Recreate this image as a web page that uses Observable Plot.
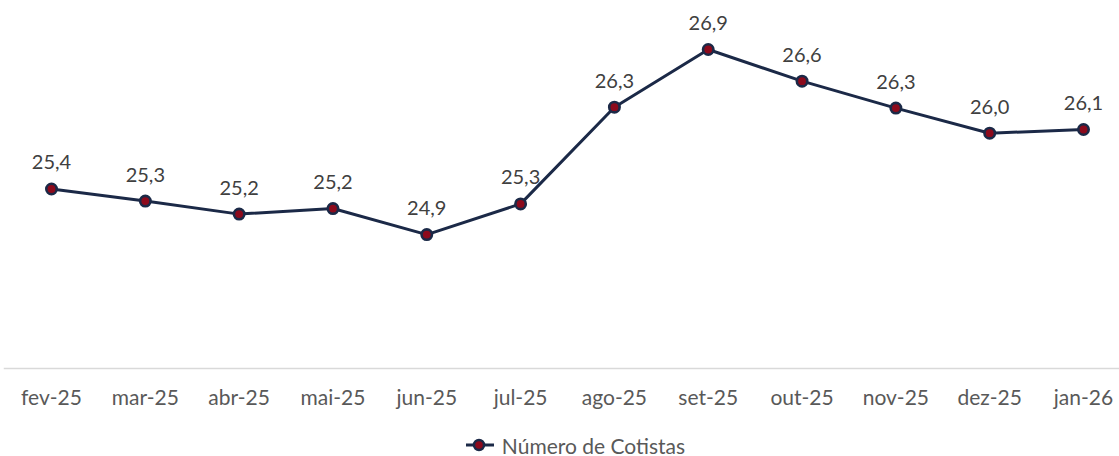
<!DOCTYPE html>
<html>
<head>
<meta charset="utf-8">
<script src="https://cdn.jsdelivr.net/npm/d3@7"></script>
<script src="https://cdn.jsdelivr.net/npm/@observablehq/plot@0.6"></script>
<style>
  html, body { margin: 0; padding: 0; background: #fff; }
  body { width: 1119px; height: 456px; overflow: hidden; font-family: Lato, "Open Sans", sans-serif; }
  #legend { display: flex; justify-content: center; align-items: center; height: 26px; margin-top: 7px; margin-left: 31px;
            font-family: Lato, sans-serif; font-size: 21px; color: #595959; }
  #legend svg { margin-right: 7px; }
</style>
</head>
<body>
<div id="chart"></div>
<div id="legend"></div>
<script>
const months = ["fev-25","mar-25","abr-25","mai-25","jun-25","jul-25","ago-25","set-25","out-25","nov-25","dez-25","jan-26"];
const cotistas = [25.43, 25.30, 25.16, 25.22, 24.94, 25.27, 26.31, 26.93, 26.59, 26.30, 26.03, 26.07];
const seriesName = "Número de Cotistas";

const data = months.map((m, i) => ({month: m, value: cotistas[i]}));
const fmt = v => v.toFixed(1).replace(".", ",");

const navy = "#1b2947";
const red = "#8c0a1c";

const plot = Plot.plot({
  width: 1119,
  height: 425,
  marginLeft: 4,
  marginRight: 0,
  marginTop: 42.5,
  marginBottom: 57,
  style: {fontFamily: "Lato, sans-serif", background: "#fff"},
  x: {type: "point", domain: months, range: [51, 1083], padding: 0, round: false, label: null},
  y: {domain: [23.5, 27], axis: null},
  marks: [
    Plot.frame({anchor: "bottom", stroke: "#d9d9d9", strokeWidth: 1.5}),
    Plot.axisX({tickSize: 0, tickPadding: 22, fontSize: 21, fill: "#595959", label: null}),
    Plot.line(data, {x: "month", y: "value", stroke: navy, strokeWidth: 3}),
    Plot.dot(data, {x: "month", y: "value", r: 5.2, fill: red, stroke: navy, strokeWidth: 2.6}),
    Plot.text(data, {x: "month", y: "value", text: d => fmt(d.value), dy: -26, fontSize: 20, fill: "#404040"})
  ]
});
document.getElementById("chart").appendChild(plot);

const legend = document.getElementById("legend");
legend.innerHTML = `<svg width="30" height="14"><line x1="1" y1="7" x2="29" y2="7" stroke="${navy}" stroke-width="3"/><circle cx="14" cy="7" r="5" fill="${red}" stroke="${navy}" stroke-width="2.5"/></svg><span>${seriesName}</span>`;
</script>
</body>
</html>
